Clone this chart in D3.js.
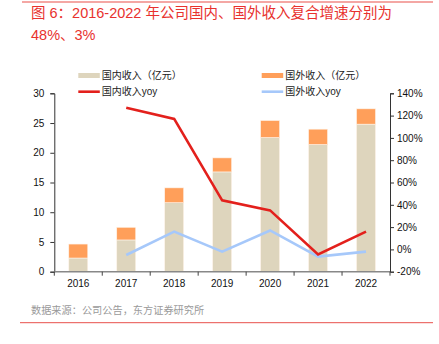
<!DOCTYPE html>
<html>
<head>
<meta charset="utf-8">
<script src="https://cdn.jsdelivr.net/npm/d3@7"></script>
<style>
  body { margin: 0; background: #fff; }
  text { font-family: "Liberation Sans", "Noto Sans CJK SC", sans-serif; }
</style>
</head>
<body>
<div id="app"></div>
<script>
const years = ['2016', '2017', '2018', '2019', '2020', '2021', '2022'];
const domestic = [2.3, 5.34, 11.6, 16.78, 22.56, 21.38, 24.81];
const overseas = [2.35, 2.13, 2.5, 2.36, 2.86, 2.59, 2.58];
const domesticYoy = [null, 127, 117, 44, 35, -4.5, 16];
const overseasYoy = [null, -5, 16, -2, 17, -6.5, -2];
const leftTicks = [0, 5, 10, 15, 20, 25, 30];
const rightTicks = [-20, 0, 20, 40, 60, 80, 100, 120, 140];

const svg = d3.select('#app')
  .append('svg')
  .attr('width', 439)
  .attr('height', 344);

// header / footer rules
svg.append('line')
  .attr('x1', 22).attr('x2', 433).attr('y1', 2).attr('y2', 2)
  .attr('stroke', '#f08a86').attr('stroke-width', 1.5);
svg.append('line')
  .attr('x1', 20).attr('x2', 433).attr('y1', 322.7).attr('y2', 322.7)
  .attr('stroke', '#e8514c').attr('stroke-width', 1);

svg.append('text')
  .attr('x', 31).attr('y', 18)
  .attr('font-size', 14.5)
  .attr('fill', '#e8322e')
  .text('图 6：2016-2022 年公司国内、国外收入复合增速分别为');
svg.append('text')
  .attr('x', 31).attr('y', 40)
  .attr('font-size', 14.5)
  .attr('fill', '#e8322e')
  .text('48%、3%');

svg.append('text')
  .attr('x', 31).attr('y', 314)
  .attr('font-size', 10.2)
  .attr('fill', '#9a9a9a')
  .text('数据来源：公司公告，东方证券研究所');

const xc = d3.scaleBand().domain(years).range([54.3, 390]);
const y = d3.scaleLinear().domain([0, 30]).range([271.7, 93.3]);
const y2 = d3.scaleLinear().domain([-20, 140]).range([271.7, 93.3]);

// stacked bars
const stack = d3.stack().keys(['domestic', 'overseas'])(
  years.map((yr, i) => ({ year: yr, domestic: domestic[i], overseas: overseas[i] }))
);
const colors = { domestic: '#ded5bd', overseas: '#ff9f5a' };

svg.append('g')
  .selectAll('g')
  .data(stack)
  .join('g')
  .attr('fill', d => colors[d.key])
  .selectAll('rect')
  .data(d => d)
  .join('rect')
  .attr('x', d => xc(d.data.year) + xc.bandwidth() / 2 - 9.5)
  .attr('width', 19)
  .attr('y', d => y(d[1]))
  .attr('height', d => y(d[0]) - y(d[1]))
  .attr('stroke', '#fff4ea')
  .attr('stroke-width', 0.6);

// axes
const leftAxis = svg.append('g')
  .attr('transform', 'translate(54.3,0)')
  .call(d3.axisLeft(y).tickValues(leftTicks).tickSize(4).tickPadding(6));
leftAxis.select('.domain').attr('stroke', '#333');
leftAxis.selectAll('line').attr('stroke', '#333');
leftAxis.selectAll('text').attr('font-size', 10).attr('fill', '#111')
  .style('font-family', '"Liberation Sans", sans-serif');

const rightAxis = svg.append('g')
  .attr('transform', 'translate(390,0)')
  .call(d3.axisRight(y2).tickValues(rightTicks).tickSize(4).tickPadding(3)
    .tickFormat(d => d + '%'));
rightAxis.select('.domain').attr('stroke', '#333');
rightAxis.selectAll('line').attr('stroke', '#333');
rightAxis.selectAll('text').attr('font-size', 10).attr('fill', '#111')
  .style('font-family', '"Liberation Sans", sans-serif');

// category axis with ticks between bands
const xAxis = svg.append('g').attr('transform', 'translate(0,271.7)');
xAxis.append('line')
  .attr('x1', 54.3).attr('x2', 390)
  .attr('stroke', '#888').attr('stroke-width', 1.6);
xAxis.selectAll('.tk')
  .data(years.concat(['end']))
  .join('line')
  .attr('x1', (d, i) => i < years.length ? xc(d) : 390)
  .attr('x2', (d, i) => i < years.length ? xc(d) : 390)
  .attr('y1', 0).attr('y2', 4)
  .attr('stroke', '#444');
xAxis.selectAll('text')
  .data(years)
  .join('text')
  .attr('x', d => xc(d) + xc.bandwidth() / 2)
  .attr('y', 15)
  .attr('text-anchor', 'middle')
  .attr('font-size', 10)
  .attr('fill', '#111')
  .text(d => d);

// yoy lines
const line = d3.line()
  .defined(d => d.v !== null)
  .x(d => xc(d.year) + xc.bandwidth() / 2)
  .y(d => y2(d.v));

svg.append('path')
  .datum(years.map((yr, i) => ({ year: yr, v: overseasYoy[i] })))
  .attr('d', line)
  .attr('fill', 'none')
  .attr('stroke', '#a6c8fa')
  .attr('stroke-width', 2.6);

svg.append('path')
  .datum(years.map((yr, i) => ({ year: yr, v: domesticYoy[i] })))
  .attr('d', line)
  .attr('fill', 'none')
  .attr('stroke', '#e3201c')
  .attr('stroke-width', 2.6);

// legend
const legend = [
  { label: '国内收入（亿元）', type: 'rect', color: colors.domestic, x: 78.3, y: 75.5 },
  { label: '国外收入（亿元）', type: 'rect', color: colors.overseas, x: 261.7, y: 75.5 },
  { label: '国内收入yoy', type: 'line', color: '#e3201c', x: 78.3, y: 91.7 },
  { label: '国外收入yoy', type: 'line', color: '#a6c8fa', x: 261.7, y: 91.7 }
];
const lg = svg.append('g').selectAll('g').data(legend).join('g')
  .attr('transform', d => `translate(${d.x},${d.y})`);
lg.filter(d => d.type === 'rect').append('rect')
  .attr('x', 0).attr('y', -2.5).attr('width', 21.5).attr('height', 5)
  .attr('fill', d => d.color);
lg.filter(d => d.type === 'line').append('line')
  .attr('x1', 0).attr('x2', 21.5).attr('y1', 0).attr('y2', 0)
  .attr('stroke', d => d.color).attr('stroke-width', 2.6);
lg.append('text')
  .attr('x', 23.5).attr('y', 3.6)
  .attr('font-size', 10)
  .attr('fill', '#222')
  .text(d => d.label);
</script>
</body>
</html>
